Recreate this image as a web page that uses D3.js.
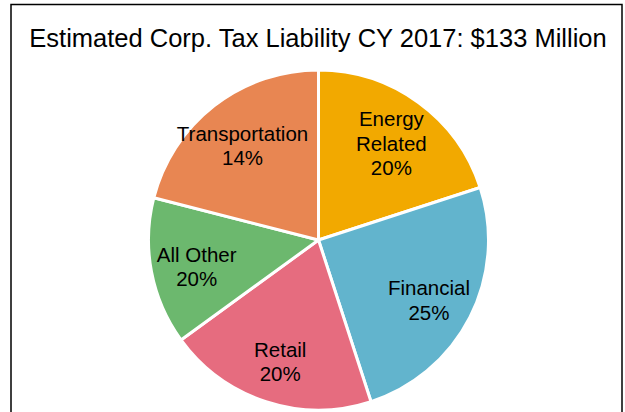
<!DOCTYPE html>
<html>
<head>
<meta charset="utf-8">
<script src="https://cdn.jsdelivr.net/npm/d3@7"></script>
<style>
  body { margin: 0; background: #fff; }
  svg { display: block; font-family: 'Liberation Sans', Arial, sans-serif; }
</style>
</head>
<body>
<script>
const width = 625;
const height = 412;

const title = 'Estimated Corp. Tax Liability CY 2017: $133 Million';
// slice sizes as drawn (percent)
const categories = ['Energy Related', 'Financial', 'Retail', 'All Other', 'Transportation'];
const values = [20, 25, 20, 14, 21];
// label text as printed on the chart
const labelLines = [
  ['Energy', 'Related', '20%'],
  ['Financial', '25%'],
  ['Retail', '20%'],
  ['All Other', '20%'],
  ['Transportation', '14%'],
];
const colors = ['#f2a900', '#62b4cd', '#e66c7f', '#6cb86e', '#e88652'];

const cx = 318.5;
const cy = 240;
const radius = 170;
const labelRadius = 124;

const svg = d3.select('body')
  .append('svg')
  .attr('width', width)
  .attr('height', height);

svg.append('rect')
  .attr('x', 11)
  .attr('y', 4.5)
  .attr('width', 611)
  .attr('height', 420)
  .attr('fill', 'none')
  .attr('stroke', '#000')
  .attr('stroke-width', 1.5);

svg.append('text')
  .attr('x', 318)
  .attr('y', 47)
  .attr('text-anchor', 'middle')
  .attr('font-size', 25.5)
  .attr('fill', '#000')
  .text(title);

const data = categories.map((c, i) => ({ name: c, value: values[i], lines: labelLines[i], color: colors[i] }));

const pie = d3.pie().value(d => d.value).sort(null);
const arc = d3.arc().innerRadius(0).outerRadius(radius);
const labelArc = d3.arc().innerRadius(labelRadius).outerRadius(labelRadius);

const g = svg.append('g').attr('transform', `translate(${cx}, ${cy})`);
const arcs = pie(data);

g.selectAll('.slice')
  .data(arcs)
  .enter()
  .append('path')
  .attr('class', 'slice')
  .attr('d', arc)
  .attr('fill', d => d.data.color)
  .attr('stroke', '#fff')
  .attr('stroke-width', 3)
  .attr('stroke-linejoin', 'round');

const lineH = 24.5;
const labels = g.selectAll('.label')
  .data(arcs)
  .enter()
  .append('text')
  .attr('class', 'label')
  .attr('text-anchor', 'middle')
  .attr('font-size', 20.5)
  .attr('fill', '#000')
  .attr('transform', d => {
    const [x, y] = labelArc.centroid(d);
    const n = d.data.lines.length;
    return `translate(${x}, ${y - (n - 1) * lineH / 2 + 11})`;
  });

labels.selectAll('tspan')
  .data(d => d.data.lines)
  .enter()
  .append('tspan')
  .attr('x', 0)
  .attr('dy', (d, i) => i === 0 ? 0 : lineH)
  .text(d => d);
</script>
</body>
</html>
